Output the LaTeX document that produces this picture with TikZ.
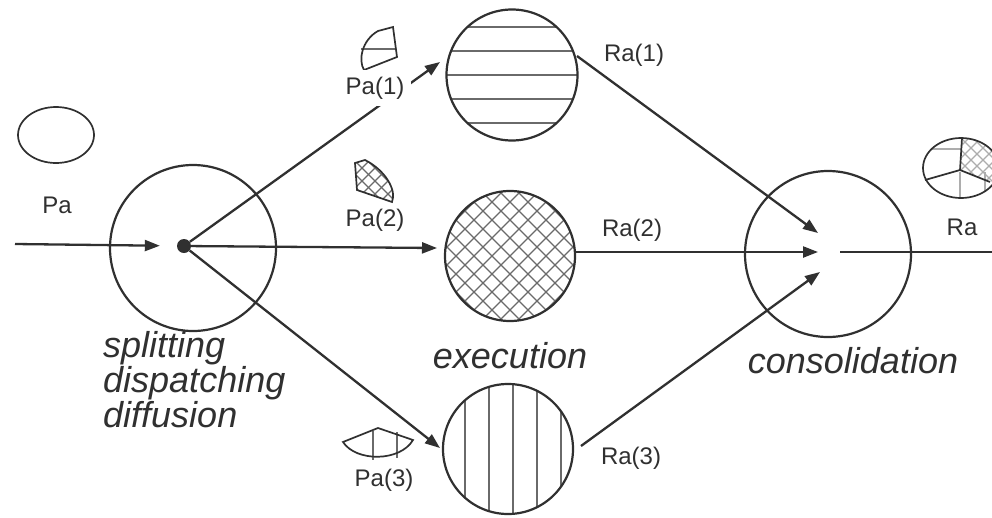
\documentclass[tikz,border=0pt]{standalone}
\usepackage{fontspec}
\setmainfont{Liberation Sans}
\usetikzlibrary{arrows.meta}
\definecolor{ink}{HTML}{303030}
\definecolor{hatch}{HTML}{6A6A6A}

\begin{document}
\begin{tikzpicture}[x=1pt,y=-1pt,color=ink,
  ring/.style={circle,draw,inner sep=0pt,line width=2.2pt},
  flow/.style={line width=2.3pt,-{Triangle[length=15pt,width=11pt]}},
  hatchline/.style={draw=hatch,line width=1.1pt},
  lbl/.style={font=\fontsize{24}{24}\selectfont},
  stage/.style={font=\fontsize{36}{31}\selectfont\itshape}]
\fill[white] (0,0) rectangle (992,517);
\useasboundingbox (0,0) rectangle (992,517);

\node[ring,minimum size=166pt] (split) at (193,248) {};
\node[circle,fill,inner sep=0pt,minimum size=14pt] (dot) at (184,246) {};
\node[ring,minimum size=131pt,path picture={
  \foreach \k in {-48,-24,0,24,48}
    \draw[hatchline] ([yshift=\k pt]path picture bounding box.west) -- ([yshift=\k pt]path picture bounding box.east);}] (exec1) at (512,75) {};
\node[ring,minimum size=130pt,path picture={
  \foreach \k in {-108,-90,...,108} {
    \draw[hatchline] ([shift={(\k-100,-100)}]path picture bounding box.center) -- ++(200,200);
    \draw[hatchline] ([shift={(\k-100,100)}]path picture bounding box.center) -- ++(200,-200);}}] (exec2) at (510,256) {};
\node[ring,minimum size=130pt,path picture={
  \foreach \k in {-43,-19,5,29,53}
    \draw[hatchline] ([xshift=\k pt]path picture bounding box.north) -- ([xshift=\k pt]path picture bounding box.south);}] (exec3) at (508,449) {};
\node[ring,minimum size=166pt] (merge) at (828,254) {};

\coordinate (src) at (15,244);
\coordinate (in1) at (440,62);
\coordinate (in2) at (437,248);
\coordinate (in3) at (440,448);
\coordinate (out1) at (577,56);
\coordinate (out2) at (575,252);
\coordinate (out3) at (581,446);
\coordinate (got1) at (818,233);
\coordinate (got2) at (818,252);
\coordinate (got3) at (820,272);
\coordinate (leave) at (840,252);
\coordinate (sink) at (992,252);

\draw[flow,shorten >=17pt] (src) -- (dot);
\draw[flow] (dot) -- (in1);
\draw[flow] (dot) -- (in2);
\draw[flow] (dot) -- (in3);
\draw[flow] (out1) -- (got1);
\draw[flow] (out2) -- (got2);
\draw[flow] (out3) -- (got3);
\draw[line width=2.3pt] (leave) -- (sink);

% whole request and its parts
\draw[line width=1.7pt] (56,135) ellipse [x radius=38,y radius=28];
\draw[hatchline] (361,49) -- (396,49);
\draw[line width=1.7pt] (393,27) -- (378,31) .. controls (362,40) and (358,60) .. (364,70) -- (397,57) -- cycle;
\begin{scope}
  \clip (355,163) -- (365,160) .. controls (385,170) and (397,190) .. (392,202) -- (357,190) -- cycle;
  \foreach \k in {-39,-26,...,39} {
    \draw[hatchline] (375+\k-30,181-30) -- ++(60,60);
    \draw[hatchline] (375+\k-30,181+30) -- ++(60,-60);}
\end{scope}
\draw[line width=1.7pt] (355,163) -- (365,160) .. controls (385,170) and (397,190) .. (392,202) -- (357,190) -- cycle;
\draw[hatchline] (373,431) -- (373,460);
\draw[hatchline] (397,432) -- (397,458);
\draw[line width=1.7pt] (343,442) -- (378,428) -- (413,440) .. controls (400,462) and (356,462) .. cycle;

% merged result
\begin{scope}
  \clip (961,168) ellipse [x radius=38,y radius=30];
  \draw[hatchline,draw=hatch!55] (925,149) -- (961,149);
  \draw[hatchline,draw=hatch!55] (960,172) -- (960,200);
  \draw[hatchline,draw=hatch!55] (985,172) -- (985,200);
  \begin{scope}
    \clip (960,170) -- (962,130) -- (1010,130) -- (1010,184) -- (990,182) -- cycle;
    \foreach \k in {-40,-28,...,40} {
      \draw[hatchline,draw=hatch!55] (975+\k-40,160-40) -- ++(80,80);
      \draw[hatchline,draw=hatch!55] (975+\k-40,160+40) -- ++(80,-80);}
  \end{scope}
\end{scope}
\draw[line width=1.7pt] (961,168) ellipse [x radius=38,y radius=30];
\draw[line width=1.7pt] (962,138) -- (960,170) -- (925,180) (960,170) -- (990,182);

\node[lbl] (pa) at (57,205) {Pa};
\node[lbl,fill=white,inner sep=7pt] (pa1) at (375,88) {Pa(1)};
\node[lbl] (pa2) at (375,220) {Pa(2)};
\node[lbl] (pa3) at (384,480) {Pa(3)};
\node[lbl] (ra1) at (634,55) {Ra(1)};
\node[lbl] (ra2) at (632,230) {Ra(2)};
\node[lbl] (ra3) at (631,458) {Ra(3)};
\node[lbl] (ra) at (962,227) {Ra};

\node[stage,anchor=base west,align=left,inner sep=0pt] (splitlbl) at (103,427) {splitting\\dispatching\\diffusion};
\node[stage,anchor=base,inner sep=0pt] (execlbl) at (510,368) {execution};
\node[stage,anchor=base,inner sep=0pt] (mergelbl) at (853,373) {consolidation};
\end{tikzpicture}
\end{document}
